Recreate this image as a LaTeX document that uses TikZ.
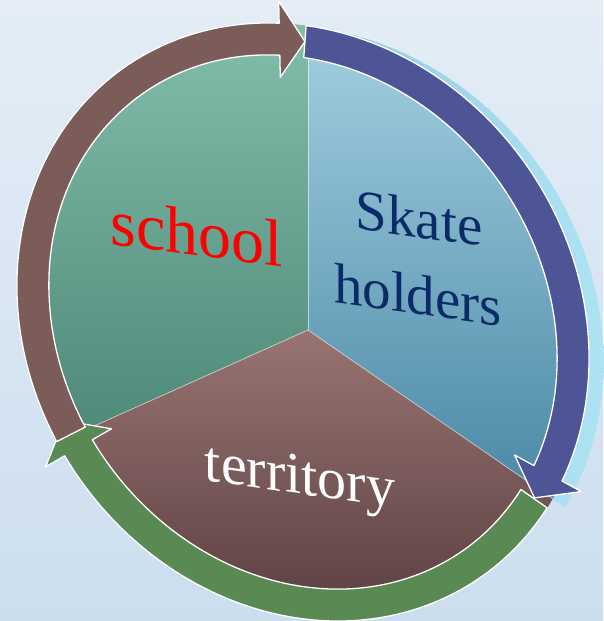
\documentclass[tikz,border=0pt]{standalone}
\usepackage{fontspec}
\setmainfont{Liberation Serif}
\definecolor{bgtop}{HTML}{E4EDF6}
\definecolor{bgbot}{HTML}{CCDEEE}
\definecolor{schA}{HTML}{86C1AE}
\definecolor{schB}{HTML}{4D8878}
\definecolor{skA}{HTML}{A8D4E5}
\definecolor{skB}{HTML}{4886A4}
\definecolor{terA}{HTML}{9A7673}
\definecolor{terB}{HTML}{5A3E41}
\definecolor{sideA}{HTML}{6FB2CE}
\definecolor{sideB}{HTML}{B2E6F6}
\definecolor{brownband}{HTML}{7C5C59}
\definecolor{blueband}{HTML}{4E5597}
\definecolor{greenband}{HTML}{598A53}
\definecolor{navytext}{HTML}{0A2A68}
\begin{document}
\begin{tikzpicture}[x=1pt,y=1pt,
  band/.style={draw=white, line width=1.3pt, line join=round},
  divline/.style={draw=white, opacity=0.55, line width=0.8pt},
  rot/.style={shift={(303,299)}, rotate=-55},
  lbl/.style={inner sep=0pt, anchor=center, transform shape}]
\useasboundingbox (0,0) rectangle (603,621);
\shade[top color=bgtop, bottom color=bgbot] (0,0) rectangle (603,621);
% 3D side of the skate sector
\begin{scope}
  \clip (308,291) -- (308,900) -- (1100,900) -- (1100,-255) -- cycle;
  \shade[left color=sideA, right color=sideB, shift={(315,294)}, rotate=-55]
    (0,0) ellipse [x radius=313pt, y radius=276pt];
\end{scope}
% pie face
\begin{scope}
  \clip[rot] (0,0) ellipse [x radius=311pt, y radius=273pt];
  \begin{scope}
    \clip (308,291) -- (308,900) -- (-400,900) -- (-400,-27) -- cycle;
    \shade[top color=schA, bottom color=schB] (0,180) rectangle (320,621);
  \end{scope}
  \begin{scope}
    \clip (308,291) -- (308,900) -- (1100,900) -- (1100,-255) -- cycle;
    \shade[top color=skA, bottom color=skB] (300,110) rectangle (603,621);
  \end{scope}
  \begin{scope}
    \clip (308,291) -- (-400,-27) -- (-400,-400) -- (1100,-400) -- (1100,-255) -- cycle;
    \shade[top color=terA, bottom color=terB] (0,0) rectangle (603,300);
  \end{scope}
  \draw[divline] (308,291) -- (308,900);
  \draw[divline] (308,291) -- (-400,-27);
  \draw[divline] (308,291) -- (1100,-255);
\end{scope}
% circular arrows
\begin{scope}[rot]
  \path[band, fill=greenband] (20:311pt and 273pt)
    arc[start angle=20, end angle=-95, x radius=311pt, y radius=273pt]
    -- (-95:333pt and 295pt) -- (-101:295pt and 257pt) -- (-95:257pt and 219pt)
    -- (-95:279pt and 241pt)
    arc[start angle=-95, end angle=20, x radius=279pt, y radius=241pt] -- cycle;
  \path[band, fill=blueband] (140.8:311pt and 273pt)
    arc[start angle=140.8, end angle=26.3, x radius=311pt, y radius=273pt]
    -- (26.3:333pt and 295pt) -- (20.2:295pt and 257pt) -- (26.3:257pt and 219pt)
    -- (26.3:279pt and 241pt)
    arc[start angle=26.3, end angle=140.8, x radius=279pt, y radius=241pt] -- cycle;
  \path[band, fill=brownband] (262:311pt and 273pt)
    arc[start angle=262, end angle=146.2, x radius=311pt, y radius=273pt]
    -- (146.2:333pt and 295pt) -- (140.8:295pt and 257pt) -- (146.2:257pt and 219pt)
    -- (146.2:279pt and 241pt)
    arc[start angle=146.2, end angle=262, x radius=279pt, y radius=241pt] -- cycle;
\end{scope}
% labels (perspective skew: upright stems, sloping baseline)
\node[lbl, yslant=-0.13, text=red, font=\fontsize{66}{70}\selectfont] (school) at (197,388) {school};
\node[lbl, yslant=-0.14, text=navytext, font=\fontsize{57}{60}\selectfont] (skate) at (419,403) {Skate};
\node[lbl, yslant=-0.14, text=navytext, font=\fontsize{57}{60}\selectfont] (holders) at (418,326) {holders};
\node[lbl, yslant=-0.14, text=white, font=\fontsize{58}{62}\selectfont] (territory) at (300,140) {territory};
\end{tikzpicture}
\end{document}
